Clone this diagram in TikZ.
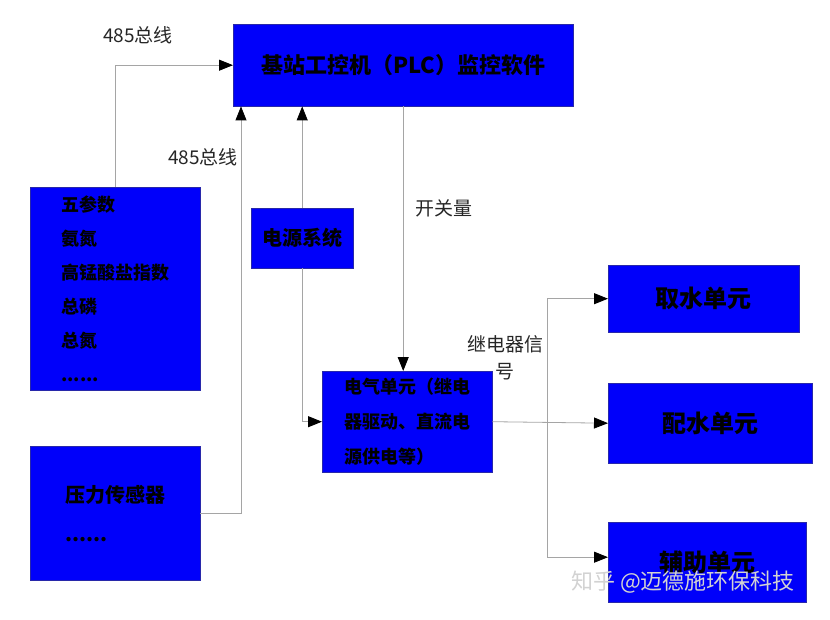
\documentclass[tikz,border=0pt]{standalone}
\usepackage{fontspec}
\setmainfont{Liberation Serif}
\newfontfamily\cjk{Noto Sans CJK SC}
\usetikzlibrary{
  arrows.meta,
  positioning,
  calc
}
\definecolor{BoxBlue}{RGB}{0,0,250}
\definecolor{EdgeBlue}{RGB}{40,40,170}
\definecolor{WireGray}{RGB}{165,165,165}
\definecolor{MarkGray}{RGB}{210,210,210}
\tikzset{
  unitbox/.style={draw=EdgeBlue,fill=BoxBlue,text=black,inner sep=0pt,anchor=north west,align=center,font=\cjk\bfseries\fontsize{20}{35}\selectfont},
  wire/.style={draw=WireGray,line width=0.8pt},
  wirearrow/.style={wire,-{Triangle[length=14pt,width=11pt,color=black]}},
  wirelabel/.style={font=\cjk\fontsize{19}{27}\selectfont,text=black!85,align=center}
}

\begin{document}
\begin{tikzpicture}[x=1pt,y=-1pt]
\useasboundingbox (0,0) rectangle (830,620);
% boxes
\node[unitbox, minimum width=340pt, minimum height=82pt, font=\cjk\bfseries\fontsize{22}{26}\selectfont] (plc) at (233,24) {基站工控机（PLC）监控软件};
\node[unitbox, minimum width=170pt, minimum height=203pt, align=left, font=\cjk\bfseries\fontsize{18}{34}\selectfont] (params) at (30,187) {五参数\\氨氮\\高锰酸盐指数\\总磷\\总氮\\......};
\node[unitbox, minimum width=170pt, minimum height=134pt, align=left, font=\cjk\bfseries\fontsize{20}{39}\selectfont] (pressure) at (30,446) {压力传感器\\......};
\node[unitbox, minimum width=102pt, minimum height=60pt] (power) at (251,208) {电源系统};
\node[unitbox, minimum width=170pt, minimum height=101pt, align=left, font=\cjk\bfseries\fontsize{18}{35}\selectfont] (elec) at (322,371) {电气单元（继电\\器驱动、直流电\\源供电等）};
\node[unitbox, minimum width=191pt, minimum height=67pt, font=\cjk\bfseries\fontsize{24}{28}\selectfont] (qushui) at (608,265) {取水单元};
\node[unitbox, minimum width=204pt, minimum height=80pt, font=\cjk\bfseries\fontsize{24}{28}\selectfont] (peishui) at (608,383) {配水单元};
\node[unitbox, minimum width=198pt, minimum height=80pt, font=\cjk\bfseries\fontsize{24}{28}\selectfont] (fuzhu) at (608,522) {辅助单元};
% connectors
\draw[wirearrow] (params.north) |- (plc.west);
\draw[wirearrow] (pressure.east) -| ([xshift=8pt]plc.south west);
\draw[wirearrow] (power.north) -- (power.north |- plc.south);
\draw[wirearrow] (power.south) |- (elec.west);
\draw[wirearrow] (plc.south) -- (plc.south |- elec.north);
\coordinate (split) at (547,421);
\draw[wirearrow] (elec.east) -- (peishui.west);
\draw[wirearrow] (split) |- (qushui.west);
\draw[wirearrow] (split) |- ([yshift=5pt]fuzhu.west);
% labels
\node[wirelabel] (bus1) at (138,35) {485总线};
\node[wirelabel] (bus2) at (203,157) {485总线};
\node[wirelabel] (switch) at (444,208) {开关量};
\node[wirelabel] (relay) at (505,358) {继电器信\\号};
\node[font=\cjk\fontsize{22}{26}\selectfont, text=MarkGray] (mark) at (683,582) {知乎 @迈德施环保科技};
\end{tikzpicture}
\end{document}
